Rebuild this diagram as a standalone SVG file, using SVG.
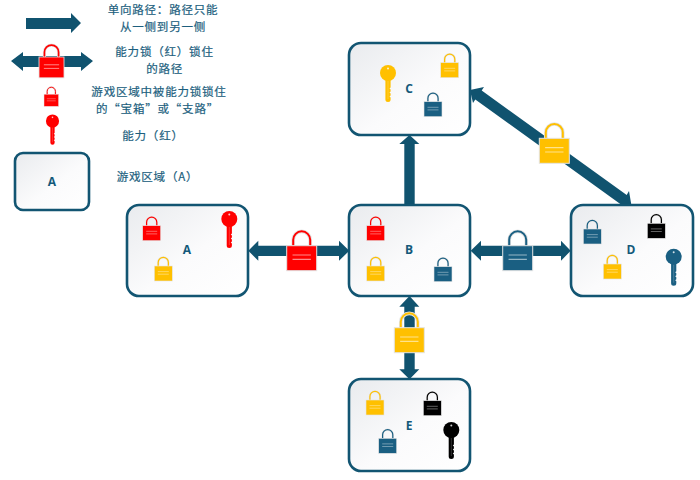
<svg xmlns="http://www.w3.org/2000/svg" width="700" height="480" viewBox="0 0 700 480">
<style>
.node{fill:url(#nodeFill);stroke:#125572;stroke-width:2.6}
.arrow{fill:#10536f}
.label{font-family:"Open Sans","Noto Sans",sans-serif;font-weight:700;font-size:12px;fill:#14597a;text-anchor:middle}
.legend{font-family:"Noto Sans CJK SC","Noto Sans",sans-serif;font-size:11.5px;letter-spacing:0.8px;fill:#1d5f7e;stroke:#1d5f7e;stroke-width:0.2px;text-anchor:middle}
.r{color:#ff0000}.y{color:#ffc000}.b{color:#1a5f82}.k{color:#000000}
</style>
<defs>
<linearGradient id="nodeFill" x1="0" y1="0" x2="1" y2="1">
<stop offset="0" stop-color="#e9ebee"/><stop offset="0.55" stop-color="#fbfbfc"/><stop offset="1" stop-color="#ffffff"/>
</linearGradient>
<g id="lock">
<path d="M3.9,0V-3.5A5.1,5.1 0 0 1 14.1,-3.5V0" fill="none" stroke="#e4e4e4" stroke-width="2.2"/>
<path d="M3.9,0V-3.5A5.1,5.1 0 0 1 14.1,-3.5V0" fill="none" stroke="currentColor" stroke-width="1.2"/>
<rect x="0" y="0" width="18" height="15" fill="currentColor" stroke="#e4e4e4" stroke-width="0.6"/>
<path d="M3.5,5.6H14.5M3.5,8.2H14.5" stroke="#ffffff" stroke-opacity="0.55" stroke-width="0.7" fill="none"/>
</g>
<g id="key">
<path d="M-2.6,5V26.5A2.6,2.5 0 0 0 2.6,26.5V24.5L1.5,23.5L2.6,22.5V20.5L1.5,19.5L2.6,18.5V16.5L1.5,15.5L2.6,14.5V5Z" fill="currentColor"/>
<circle r="8" fill="currentColor"/>
<circle cx="0" cy="-4.5" r="1" fill="#ffffff" fill-opacity="0.8"/>
<path d="M0,8V26" stroke="#ffffff" stroke-opacity="0.25" stroke-width="0.8"/>
</g>
</defs>

<g id="legend">
<polygon class="arrow" points="26,18 71,18 71,13 81,23 71,33 71,29 26,29"/>
<polygon class="arrow" points="11,61 23,52 23,56 81,56 81,52 93,61 81,71 81,67 23,67 23,71"/>
<use href="#lock" class="r" transform="translate(39,57) scale(1.39)"/>
<use href="#lock" class="r" transform="translate(44,94.2) scale(0.81)"/>
<use href="#key" class="r" transform="translate(52.5,121) scale(0.82)"/>
<rect class="node" x="15" y="153" width="74" height="57" rx="8"/>
<text class="label" x="52" y="185.5">A</text>
<text class="legend" x="163" y="14">单向路径：路径只能</text>
<text class="legend" x="163" y="30.9">从一侧到另一侧</text>
<text class="legend" x="164.5" y="56">能力锁（红）锁住</text>
<text class="legend" x="164.7" y="72.9">的路径</text>
<text class="legend" x="159" y="96">游戏区域中被能力锁锁住</text>
<text class="legend" x="157.5" y="112.9">的“宝箱”或“支路”</text>
<text class="legend" x="153" y="140">能力（红）</text>
<text class="legend" x="157.5" y="181">游戏区域（A）</text>
</g>

<g id="connectors">
<polygon class="arrow" points="248.3,250.8 258.3,240.7 258.3,245.7 339,245.7 339,240.7 349.3,250.8 339,260.7 339,256 258.3,256 258.3,260.7"/>
<polygon class="arrow" points="470.7,250.8 481,240.7 481,245.7 561,245.7 561,240.7 570.7,250.8 561,260.7 561,256 481,256 481,260.7"/>
<polygon class="arrow" points="409.5,135 419.3,144 414.7,144 414.7,205 404.3,205 404.3,144 399.3,144"/>
<polygon class="arrow" points="409.5,296 419.3,306.7 414.7,306.7 414.7,369.3 419.3,369.3 409.5,379.3 399.3,369.3 404.3,369.3 404.3,306.7 399.3,306.7"/>
<polygon class="arrow" points="470,90 484,87 481.7,90.5 626.7,195 629,191 631.7,207 618,207.7 620.3,204 475.3,99.5 473,103"/>
<use href="#lock" class="r" transform="translate(286.7,245.7) scale(1.667)"/>
<use href="#lock" class="b" transform="translate(502.7,245.7) scale(1.667)"/>
<use href="#lock" class="y" transform="translate(539.3,138.3) scale(1.667)"/>
<use href="#lock" class="y" transform="translate(394.3,327.7) scale(1.667)"/>
</g>

<g id="node-a">
<rect class="node" x="127" y="205" width="121" height="91" rx="12"/>
<text class="label" x="187" y="254">A</text>
<use href="#lock" class="r" transform="translate(142.7,225.7)"/>
<use href="#lock" class="y" transform="translate(154.3,266)"/>
<use href="#key" class="r" transform="translate(229.3,219)"/>
</g>
<g id="node-b">
<rect class="node" x="349" y="205" width="121" height="91" rx="12"/>
<text class="label" x="409" y="254">B</text>
<use href="#lock" class="r" transform="translate(366.7,225.7)"/>
<use href="#lock" class="y" transform="translate(366.7,266)"/>
<use href="#lock" class="b" transform="translate(434,266.7)"/>
</g>
<g id="node-c">
<rect class="node" x="349" y="43" width="121" height="92" rx="12"/>
<text class="label" x="409" y="93">C</text>
<use href="#key" class="y" transform="translate(388,73)"/>
<use href="#lock" class="y" transform="translate(440.7,62.7)"/>
<use href="#lock" class="b" transform="translate(424,101.7)"/>
</g>
<g id="node-d">
<rect class="node" x="571" y="205" width="122" height="91" rx="12"/>
<text class="label" x="631" y="254">D</text>
<use href="#lock" class="b" transform="translate(583.3,229)"/>
<use href="#lock" class="k" transform="translate(647.3,223.3)"/>
<use href="#lock" class="y" transform="translate(603.3,264)"/>
<use href="#key" class="b" transform="translate(673.7,256.7)"/>
</g>
<g id="node-e">
<rect class="node" x="349" y="379" width="121" height="92" rx="12"/>
<text class="label" x="409" y="429.5">E</text>
<use href="#lock" class="y" transform="translate(366,400)"/>
<use href="#lock" class="k" transform="translate(423.3,400.7)"/>
<use href="#lock" class="b" transform="translate(378.7,438.3)"/>
<use href="#key" class="k" transform="translate(451.3,430)"/>
</g>
</svg>
